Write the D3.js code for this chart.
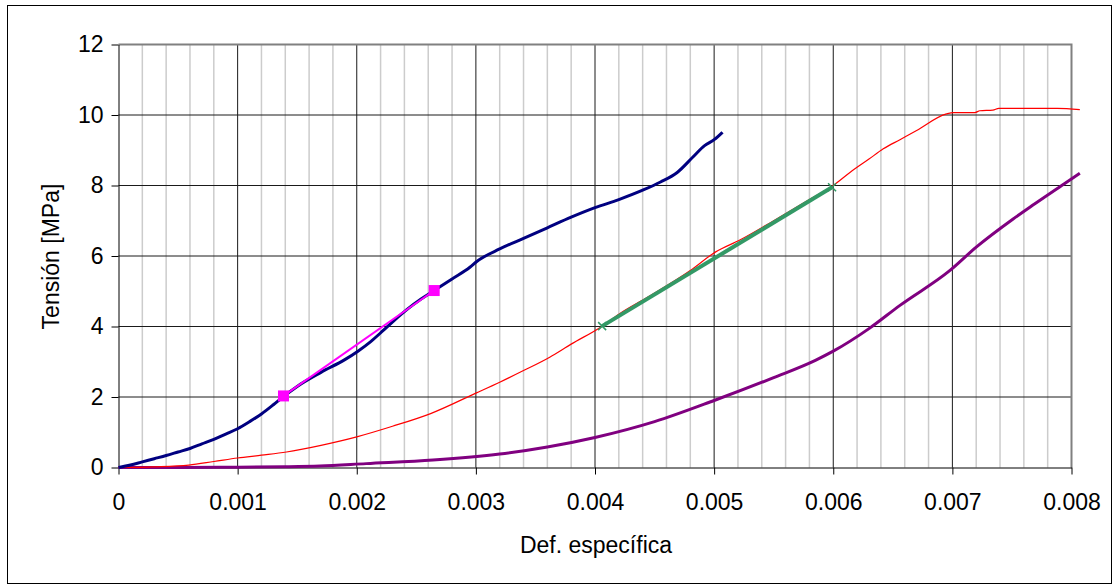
<!DOCTYPE html>
<html>
<head>
<meta charset="utf-8">
<script src="https://cdn.jsdelivr.net/npm/d3@7"></script>
<style>
  body { margin: 0; background: #fff; }
  text { font-family: "Liberation Sans", Arial, sans-serif; }
</style>
</head>
<body>
<script>
// data
var blueX = [0, 0.0001, 0.0002, 0.0003, 0.0004, 0.0005, 0.0006, 0.0007, 0.0008, 0.0009, 0.001, 0.0011, 0.0012, 0.0013, 0.00138, 0.0015, 0.0017, 0.0019, 0.00201, 0.00212, 0.00222, 0.00232, 0.00242, 0.00254, 0.00265, 0.0028, 0.00295, 0.00301, 0.0032, 0.0034, 0.0036, 0.0038, 0.004, 0.0042, 0.00441, 0.00455, 0.00469, 0.00482, 0.00492, 0.005, 0.00507];
var blueY = [0, 0.07, 0.16, 0.25, 0.34, 0.44, 0.54, 0.67, 0.8, 0.95, 1.1, 1.3, 1.52, 1.78, 2.0, 2.3, 2.7, 3.06, 3.3, 3.58, 3.88, 4.19, 4.48, 4.78, 5.02, 5.35, 5.68, 5.85, 6.2, 6.5, 6.8, 7.1, 7.37, 7.6, 7.88, 8.1, 8.37, 8.8, 9.13, 9.3, 9.51];

var redX = [0, 0.0003, 0.00059, 0.0008, 0.001, 0.0012, 0.00141, 0.0017, 0.002, 0.0023, 0.00262, 0.003, 0.0032, 0.0034, 0.00362, 0.0038, 0.00406, 0.0042, 0.00444, 0.0048, 0.00501, 0.00522, 0.0055, 0.0058, 0.006, 0.00614, 0.0063, 0.00642, 0.00656, 0.0067, 0.00695, 0.00701, 0.00719, 0.00723, 0.00734, 0.00739, 0.00788, 0.00807];
var redY = [0, 0.02, 0.07, 0.17, 0.27, 0.35, 0.44, 0.63, 0.87, 1.17, 1.53, 2.11, 2.42, 2.75, 3.13, 3.5, 4.01, 4.35, 4.83, 5.59, 6.11, 6.46, 7.0, 7.6, 8.0, 8.37, 8.75, 9.04, 9.3, 9.56, 10.03, 10.07, 10.07, 10.12, 10.14, 10.19, 10.19, 10.15];

var purpleX = [0, 0.0005, 0.001, 0.0014, 0.00169, 0.00208, 0.00264, 0.0032, 0.0036, 0.004, 0.0045, 0.005, 0.0055, 0.00585, 0.006, 0.0063, 0.00656, 0.00698, 0.0072, 0.00751, 0.00767, 0.00794, 0.00807];
var purpleY = [0, 0, 0.01, 0.02, 0.04, 0.11, 0.21, 0.38, 0.58, 0.85, 1.3, 1.9, 2.55, 3.04, 3.3, 3.94, 4.6, 5.59, 6.25, 7.05, 7.43, 8.05, 8.35];

// fitted lines
var magentaX = [0.001385, 0.00265];
var magentaY = [2.03, 5.02];
var greenX = [0.00406, 0.00599];
var greenY = [4.01, 7.95];

var xTicks = [0, 0.001, 0.002, 0.003, 0.004, 0.005, 0.006, 0.007, 0.008];
var yTicks = [0, 2, 4, 6, 8, 10, 12];

var W = 1114, H = 586;
var margin = {top: 44.5, left: 118.5},
    width = 1071.5 - 118.5,
    height = 467.5 - 44.5;

var svg = d3.select("body").append("svg")
    .attr("width", W)
    .attr("height", H);

// outer frame
svg.append("rect")
    .attr("x", 7.5).attr("y", 5.5)
    .attr("width", W - 10).attr("height", H - 8)
    .attr("fill", "none").attr("stroke", "#000").attr("stroke-width", 1);

var g = svg.append("g")
    .attr("transform", "translate(" + margin.left + "," + margin.top + ")");

var x = d3.scaleLinear().domain([0, 0.008]).range([0, width]);
var y = d3.scaleLinear().domain([0, 12]).range([height, 0]);

// minor vertical grid
var minor = d3.range(1, 40).map(function(i) { return i * 0.0002; })
    .filter(function(d, i) { return (i + 1) % 5 !== 0; });
g.selectAll(".minor").data(minor).enter().append("line")
    .attr("x1", function(d) { return x(d); }).attr("x2", function(d) { return x(d); })
    .attr("y1", 0).attr("y2", height)
    .attr("stroke", "#cccccc").attr("stroke-width", 1.5);

// major grid
g.selectAll(".vmaj").data(xTicks.slice(1, -1)).enter().append("line")
    .attr("x1", function(d) { return x(d); }).attr("x2", function(d) { return x(d); })
    .attr("y1", 0).attr("y2", height)
    .attr("stroke", "#1a1a1a").attr("stroke-width", 1);
g.selectAll(".hmaj").data(yTicks.slice(1, -1)).enter().append("line")
    .attr("x1", 0).attr("x2", width)
    .attr("y1", function(d) { return y(d); }).attr("y2", function(d) { return y(d); })
    .attr("stroke", "#1a1a1a").attr("stroke-width", 1);

// plot area border (top / right)
g.append("path")
    .attr("d", "M0," + y(12) + "H" + x(0.008) + "V" + height)
    .attr("fill", "none").attr("stroke", "#808080").attr("stroke-width", 2);

// axes
var xAxis = g.append("g")
    .attr("transform", "translate(0," + height + ")")
    .call(d3.axisBottom(x).tickValues(xTicks).tickSize(7).tickSizeOuter(0).tickPadding(19)
      .tickFormat(function(d) { return d === 0 ? "0" : d3.format(".3f")(d); }));
var yAxis = g.append("g")
    .call(d3.axisLeft(y).tickValues(yTicks).tickSize(7).tickSizeOuter(0).tickPadding(8)
      .tickFormat(d3.format("d")));
[xAxis, yAxis].forEach(function(a) {
  a.select(".domain").attr("stroke", "#000");
  a.selectAll(".tick line").attr("stroke", "#000");
  a.selectAll("text").attr("font-size", 23).attr("fill", "#000")
    .attr("font-family", "'Liberation Sans', Arial, sans-serif");
});

// series
var line = d3.line()
    .x(function(d) { return x(d[0]); })
    .y(function(d) { return y(d[1]); });
var smooth = d3.line()
    .curve(d3.curveMonotoneX)
    .x(function(d) { return x(d[0]); })
    .y(function(d) { return y(d[1]); });

function pairs(xs, ys) { return xs.map(function(v, i) { return [v, ys[i]]; }); }

g.append("path").datum(pairs(purpleX, purpleY))
    .attr("d", smooth).attr("fill", "none")
    .attr("stroke", "#800080").attr("stroke-width", 3);
g.append("path").datum(pairs(redX, redY))
    .attr("d", smooth).attr("fill", "none")
    .attr("stroke", "#ff0000").attr("stroke-width", 1.2);
g.append("path").datum(pairs(blueX, blueY))
    .attr("d", smooth).attr("fill", "none")
    .attr("stroke", "#000080").attr("stroke-width", 3);

// magenta fit with square markers
var mag = pairs(magentaX, magentaY);
g.append("path").datum(mag)
    .attr("d", line).attr("fill", "none")
    .attr("stroke", "#ff00ff").attr("stroke-width", 2);
g.selectAll(".sq").data(mag).enter().append("rect")
    .attr("x", function(d) { return x(d[0]) - 5.5; })
    .attr("y", function(d) { return y(d[1]) - 5.5; })
    .attr("width", 11).attr("height", 11)
    .attr("fill", "#ff00ff");

// green fit with x markers
var grn = pairs(greenX, greenY);
g.append("path").datum(grn)
    .attr("d", line).attr("fill", "none")
    .attr("stroke", "#339966").attr("stroke-width", 4);
g.selectAll(".xm").data(grn).enter().append("path")
    .attr("d", function(d) {
      var cx = x(d[0]), cy = y(d[1]), s = 4;
      return "M" + (cx - s) + "," + (cy - s) + "L" + (cx + s) + "," + (cy + s) +
             "M" + (cx - s) + "," + (cy + s) + "L" + (cx + s) + "," + (cy - s);
    })
    .attr("stroke", "#339966").attr("stroke-width", 1.5);

// axis labels
svg.append("text")
    .attr("x", 596).attr("y", 552.5)
    .attr("text-anchor", "middle")
    .attr("font-size", 23)
    .text("Def. específica");
svg.append("text")
    .attr("transform", "translate(59,256.5) rotate(-90)")
    .attr("text-anchor", "middle")
    .attr("font-size", 23)
    .text("Tensión [MPa]");
</script>
</body>
</html>
